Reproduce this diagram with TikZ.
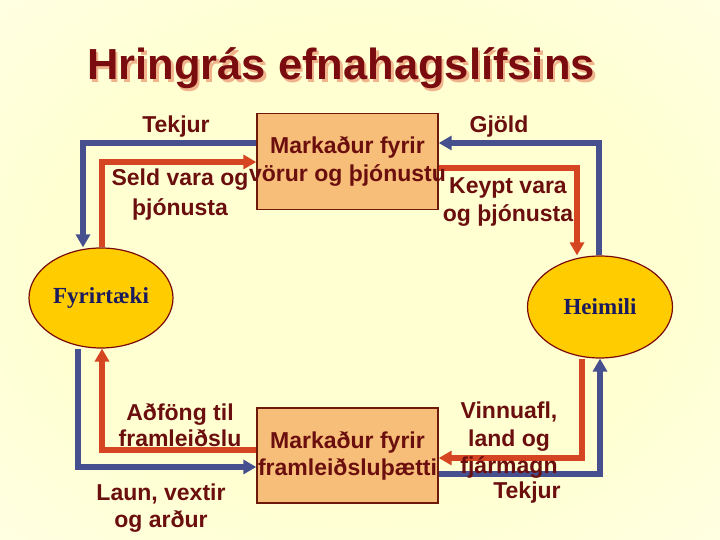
\documentclass[tikz,border=0pt]{standalone}
\usepackage{fontspec}
\setmainfont{Liberation Sans}
\newfontfamily\timesfont{Liberation Serif}
\usetikzlibrary{arrows.meta,shapes.geometric}

\definecolor{titlered}{HTML}{7A0C10}
\definecolor{titleshade}{HTML}{F0B48C}
\definecolor{labelred}{HTML}{6B0E0E}
\definecolor{boxfill}{HTML}{F6BE78}
\definecolor{boxline}{HTML}{6E1A0A}
\definecolor{flowblue}{HTML}{46508E}
\definecolor{flowred}{HTML}{D64522}
\definecolor{ellfill}{HTML}{FFCC00}
\definecolor{ellline}{HTML}{7A0A0A}
\definecolor{navy}{HTML}{1A1A5E}
\definecolor{bgmid}{HTML}{FFFFD2}
\definecolor{bgedge}{HTML}{FFFFF4}
\pgfdeclareradialshading{slideglow}{\pgfpoint{0bp}{0bp}}{color(0bp)=(bgmid); color(22bp)=(bgmid); color(50bp)=(bgedge); color(75bp)=(bgedge)}

\begin{document}
\begin{tikzpicture}[x=1pt,y=1pt,font=\bfseries\fontsize{23}{28}\selectfont,>={Triangle[length=13pt,width=14pt]},
 market/.style={draw=boxline,line width=1.4pt,fill=boxfill,minimum width=181pt,minimum height=96pt,inner sep=0pt},
 sector/.style={ellipse,draw=ellline,line width=1.2pt,fill=ellfill,minimum width=144pt,minimum height=100pt,inner sep=0pt,
  font=\timesfont\bfseries\fontsize{23}{27}\selectfont,text=navy},
 lbl/.style={align=center,text=labelred,inner sep=0pt},
 money/.style={draw=flowblue,line width=5.5pt},
 goods/.style={draw=flowred,line width=5.5pt}]
\shade[shading=slideglow] (0,0) rectangle (720,540);
\node[font=\bfseries\fontsize{43.5}{50}\selectfont,text=titleshade,anchor=base] (titleback) at (343.5,457.5) {Hringrás efnahagslífsins};
\node[font=\bfseries\fontsize{43.5}{50}\selectfont,text=titlered,anchor=base] (title) at (341,460) {Hringrás efnahagslífsins};
\node[market] (mktgoods) at (347.5,378.5) {};
\node[market,minimum height=95pt] (mktfactors) at (347.5,84.5) {};
\node[sector] (firms) at (101,242) {Fyrirtæki};
\node[sector,minimum width=145pt,minimum height=102pt] (homes) at (600,233) {Heimili};
% money and goods flows
\draw[money,->] (mktgoods.west |- 0,397) -| (firms.north -| 83,0);
\draw[goods,->] (firms.north -| 102,0) |- (mktgoods.west |- 0,378);
\draw[goods,->] (mktgoods.east |- 0,372) -| (homes.north -| 577,0);
\draw[money,->] (homes.north -| 599,0) |- (mktgoods.east |- 0,397);
\draw[money,->] (firms.south -| 78,0) |- (mktfactors.west |- 0,73);
\draw[goods,->] (mktfactors.west |- 0,90) -| (firms.south -| 102,0);
\draw[goods,->] (homes.south -| 582,0) |- (mktfactors.east |- 0,82);
\draw[money,->] (mktfactors.east |- 0,66) -| (homes.south -| 600,0);
% labels
\node[lbl] (goodstext) at (mktgoods.center) {Markaður fyrir\\vörur og þjónustu};
\node[lbl,font=\bfseries\fontsize{23}{27}\selectfont] (factorstext) at (mktfactors.center) {Markaður fyrir\\framleiðsluþætti};
\node[lbl] (revtop) at (176,413) {Tekjur};
\node[lbl] (costtop) at (499,413) {Gjöld};
\node[lbl,font=\bfseries\fontsize{23}{30}\selectfont] (sold) at (180,345) {Seld vara og\\þjónusta};
\node[lbl] (bought) at (508,337.5) {Keypt vara\\og þjónusta};
\node[lbl,font=\bfseries\fontsize{23}{26}\selectfont] (inputs) at (180,115) {Aðföng til\\framleiðslu};
\node[lbl,font=\bfseries\fontsize{23}{27}\selectfont] (wages) at (161,31.5) {Laun, vextir\\og arður};
\node[lbl,font=\bfseries\fontsize{23}{27.5}\selectfont] (labour) at (509,99.5) {Vinnuafl,\\land og\\fjármagn};
\node[lbl] (revbottom) at (527,47) {Tekjur};
\end{tikzpicture}
\end{document}
